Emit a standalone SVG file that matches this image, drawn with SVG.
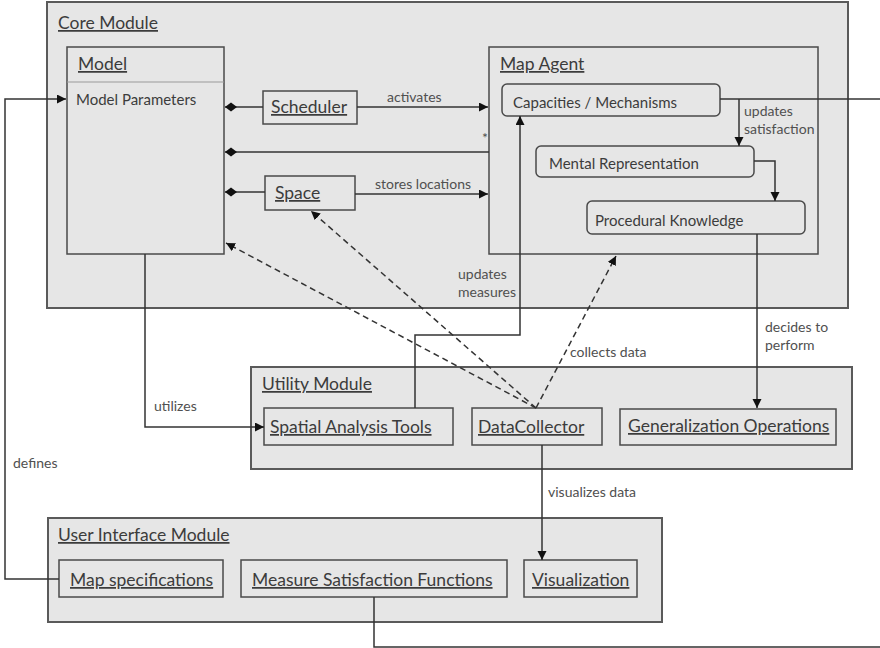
<svg xmlns="http://www.w3.org/2000/svg" width="880" height="648" viewBox="0 0 880 648">
<style>
.mod{fill:#e6e6e6;stroke:#5a5a5a;stroke-width:2}
.box{fill:#e6e6e6;stroke:#4a4a4a;stroke-width:1.5}
.t{font-family:Lato,"Open Sans",sans-serif;fill:#3c3c3c}
.h{font-size:17.5px;text-decoration:underline}
.s{font-size:15px}
.l{font-size:14px;fill:#505050}
.c{fill:none;stroke:#333;stroke-width:1.5}
.d{stroke-dasharray:6 4}
</style>
<defs>
<marker id="arr" markerUnits="userSpaceOnUse" markerWidth="10" markerHeight="10" refX="9" refY="4.5" orient="auto">
<path d="M0,0 L9,4.5 L0,9 z" fill="#111"/>
</marker>
<marker id="dia" markerUnits="userSpaceOnUse" markerWidth="14" markerHeight="10" refX="0" refY="5" orient="auto">
<path d="M0,5 L6,0.5 L12,5 L6,9.5 z" fill="#111"/>
</marker>
</defs>
<rect width="880" height="648" fill="#fff"/>

<g id="core-module">
<rect class="mod" x="47" y="2" width="801" height="306"/>
<text class="t h" x="58" y="29">Core Module</text>
</g>
<g id="utility-module">
<rect class="mod" x="251" y="367" width="601" height="102"/>
<text class="t h" x="262" y="390">Utility Module</text>
</g>
<g id="ui-module">
<rect class="mod" x="48" y="518" width="614" height="104"/>
<text class="t h" x="58" y="541">User Interface Module</text>
</g>

<g id="model">
<rect class="box" x="67" y="47" width="157" height="207"/>
<line x1="67" y1="82" x2="224" y2="82" stroke="#9a9a9a" stroke-width="1"/>
<text class="t h" x="78" y="70">Model</text>
<text class="t s" x="76" y="105">Model Parameters</text>
</g>
<g id="scheduler">
<rect class="box" x="263" y="91" width="94" height="33"/>
<text class="t h" x="271" y="113">Scheduler</text>
</g>
<g id="space">
<rect class="box" x="265" y="176" width="90" height="34"/>
<text class="t h" x="275" y="199">Space</text>
</g>
<g id="map-agent">
<rect class="box" x="489" y="47" width="329" height="207"/>
<text class="t h" x="500" y="70">Map Agent</text>
</g>
<g id="capacities">
<rect class="box" x="502" y="84" width="218" height="32" rx="5"/>
<text class="t s" x="513" y="108">Capacities / Mechanisms</text>
</g>
<g id="mental">
<rect class="box" x="536" y="146" width="218" height="31" rx="5"/>
<text class="t s" x="549" y="169">Mental Representation</text>
</g>
<g id="procedural">
<rect class="box" x="587" y="201" width="218" height="33" rx="5"/>
<text class="t s" x="595" y="226">Procedural Knowledge</text>
</g>
<g id="spatial-analysis">
<rect class="box" x="264" y="408" width="189" height="37"/>
<text class="t h" x="270" y="433">Spatial Analysis Tools</text>
</g>
<g id="datacollector">
<rect class="box" x="472" y="408" width="130" height="37"/>
<text class="t h" x="478" y="433">DataCollector</text>
</g>
<g id="generalization">
<rect class="box" x="620" y="409" width="216" height="36"/>
<text class="t h" x="628" y="432">Generalization Operations</text>
</g>
<g id="map-specifications">
<rect class="box" x="59" y="560" width="164" height="37"/>
<text class="t h" x="70" y="586">Map specifications</text>
</g>
<g id="measure-satisfaction">
<rect class="box" x="241" y="560" width="266" height="37"/>
<text class="t h" x="252" y="586">Measure Satisfaction Functions</text>
</g>
<g id="visualization">
<rect class="box" x="524" y="560" width="113" height="37"/>
<text class="t h" x="532" y="586">Visualization</text>
</g>

<g id="connectors">
<line class="c" x1="225" y1="107" x2="263" y2="107" marker-start="url(#dia)"/>
<line class="c" x1="225" y1="152" x2="489" y2="152" marker-start="url(#dia)"/>
<line class="c" x1="225" y1="192" x2="265" y2="192" marker-start="url(#dia)"/>
<text class="t l" x="482" y="143">*</text>
<line class="c" x1="357" y1="107" x2="488" y2="107" marker-end="url(#arr)"/>
<text class="t l" x="387" y="102">activates</text>
<line class="c" x1="355" y1="194" x2="488" y2="194" marker-end="url(#arr)"/>
<text class="t l" x="375" y="189">stores locations</text>
<polyline class="c" points="720,99 880,99"/>
<line class="c" x1="739" y1="99" x2="739" y2="146" marker-end="url(#arr)"/>
<text class="t l" x="744" y="116">updates</text>
<text class="t l" x="744" y="134">satisfaction</text>
<polyline class="c" points="754,161 775,161 775,201" marker-end="url(#arr)"/>
<line class="c" x1="757" y1="234" x2="757" y2="408" marker-end="url(#arr)"/>
<text class="t l" x="765" y="332">decides to</text>
<text class="t l" x="765" y="350">perform</text>
<polyline class="c" points="145,254 145,427 264,427" marker-end="url(#arr)"/>
<text class="t l" x="154" y="411">utilizes</text>
<polyline class="c" points="415,408 415,335 520,335 520,116" marker-end="url(#arr)"/>
<text class="t l" x="458" y="279">updates</text>
<text class="t l" x="458" y="297">measures</text>
<line class="c d" x1="536" y1="408" x2="226" y2="243" marker-end="url(#arr)"/>
<line class="c d" x1="536" y1="408" x2="311" y2="211" marker-end="url(#arr)"/>
<line class="c d" x1="536" y1="408" x2="616" y2="256" marker-end="url(#arr)"/>
<text class="t l" x="570" y="357">collects data</text>
<line class="c" x1="542" y1="445" x2="542" y2="560" marker-end="url(#arr)"/>
<text class="t l" x="548" y="497">visualizes data</text>
<polyline class="c" points="59,579 5,579 5,99 66,99" marker-end="url(#arr)"/>
<text class="t l" x="13" y="468">defines</text>
<polyline class="c" points="374,597 374,647 880,647"/>
</g>
</svg>
